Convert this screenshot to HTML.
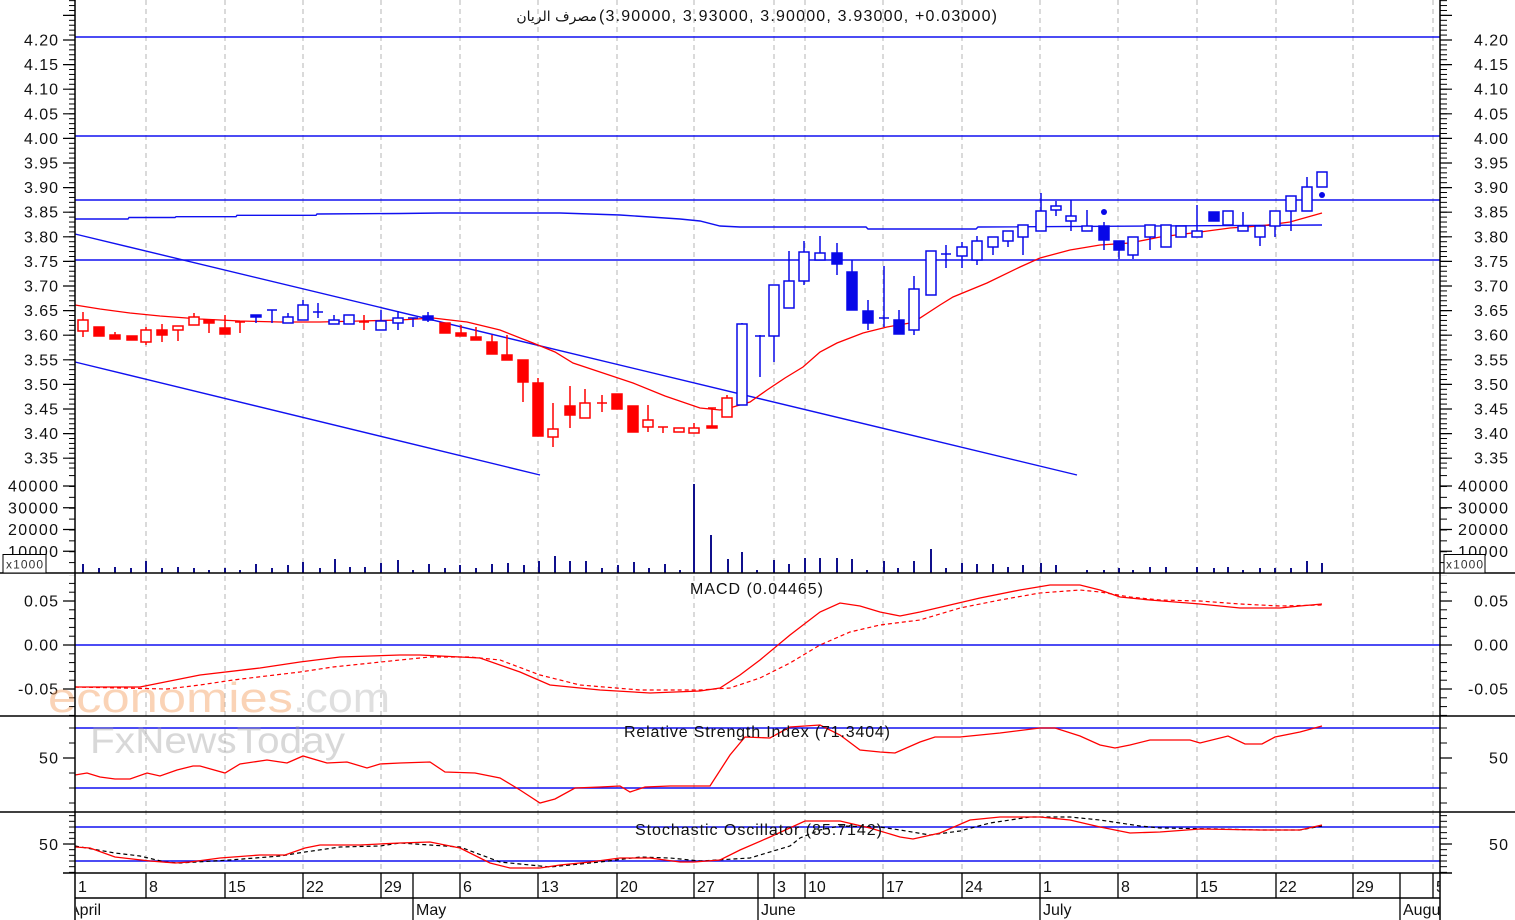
<!DOCTYPE html>
<html><head><meta charset="utf-8"><style>
html,body{margin:0;padding:0;background:#fff;}
svg{display:block;}
text{font-family:"Liberation Sans",Arial,"DejaVu Sans",sans-serif;font-size:16px;fill:#111;}
</style></head><body>
<svg width="1515" height="920" viewBox="0 0 1515 920" xmlns="http://www.w3.org/2000/svg">
<defs>
<pattern id="tp" patternUnits="userSpaceOnUse" x="0" y="39.5" width="1515" height="4.92"><rect width="1515" height="1" fill="#000"/></pattern>
<pattern id="tv" patternUnits="userSpaceOnUse" x="0" y="562.1" width="1515" height="10.875"><rect width="1515" height="1" fill="#000"/></pattern>
<pattern id="tm" patternUnits="userSpaceOnUse" x="0" y="644.5" width="1515" height="8.8"><rect width="1515" height="1" fill="#000"/></pattern>
<pattern id="tr" patternUnits="userSpaceOnUse" x="0" y="757.5" width="1515" height="15"><rect width="1515" height="1" fill="#000"/></pattern>
<pattern id="ts" patternUnits="userSpaceOnUse" x="0" y="843.5" width="1515" height="5.67"><rect width="1515" height="1" fill="#000"/></pattern>
<clipPath id="bc"><rect x="76" y="873" width="1364" height="47"/></clipPath>
</defs>
<rect width="1515" height="920" fill="#fff"/>

<!-- dashed gridlines -->
<g stroke="#b4b4b4" stroke-width="1" stroke-dasharray="5,4">
<path d="M146 0V873M225 0V873M303 0V873M381 0V873M460 0V873M538 0V873M617 0V873M694 0V873M774 0V873M805 0V873M883 0V873M962 0V873M1040 0V873M1118 0V873M1197 0V873M1276 0V873M1353 0V873M1433 0V873"/>
</g>

<!-- main horizontal lines -->
<g stroke="#1010f0" stroke-width="1.4" fill="none">
<path d="M75 37H1440M75 136H1440M75 200H1440M75 260H1440"/>
<polyline points="75,219 128,219 129,217.5 175,217.5 176,216.7 236,216.7 237,215.3 316,215.3 317,214 400,213.5 440,213 560,213 620,215 680,219 700,221 720,226 740,227 866,227 868,229 976,229 978,227 1322,225"/>
<path d="M75 234L1077 475M75 362L540 475"/>
</g>

<!-- red MA -->
<polyline fill="none" stroke="#f00" stroke-width="1.3" points="75,305 100,309 130,313 160,316 200,319 240,321 280,322 320,322 360,321 400,320 433,318 467,322 500,330 533,343 555,352 573,363 600,372 633,383 665,396 700,408 720,410 733,407 750,402 767,390 785,378 803,367 820,352 837,343 863,333 887,327 910,323 920,318 940,305 953,297 987,283 1020,267 1040,258 1070,250 1100,245 1130,243 1160,237 1200,232 1230,228 1260,226 1290,222 1322,213"/>

<!-- red candles -->
<g stroke="#f00" stroke-width="1.5">
<path fill="none" d="M83 312V337M99 327V336M115 332V339M132 336V340M146 327V345M162 324V342M178 326V341M194 313V325M209 320V333M225 315V334M240 322V333M364 315V330M445 323V333M461 325V336M476 327V340M492 335V354M507 335V360M523 360V402M538 378V436M553 403V447M570 386V428M585 389V418M602 395V412M617 394V409M633 406V432M648 405V432M663 427V433M679 428V432M694 423V433M712 408V428M727 395V417M708 408H716M359 322H369M597 403H607M235 322H245M658 427H668"/>
<g fill="#f00">
<rect x="94" y="327" width="10" height="9"/><rect x="110" y="335" width="10" height="4"/><rect x="127" y="336" width="10" height="4"/><rect x="157" y="330" width="10" height="5"/><rect x="204" y="320" width="10" height="3"/><rect x="220" y="328" width="10" height="6"/><rect x="440" y="323" width="10" height="10"/><rect x="456" y="333" width="10" height="3"/><rect x="471" y="337" width="10" height="3"/><rect x="487" y="342" width="10" height="12"/><rect x="502" y="355" width="10" height="5"/><rect x="518" y="360" width="10" height="22"/><rect x="533" y="383" width="10" height="53"/><rect x="565" y="406" width="10" height="9"/><rect x="612" y="394" width="10" height="15"/><rect x="628" y="406" width="10" height="26"/><rect x="707" y="426" width="10" height="2"/>
</g>
<g fill="#fff">
<rect x="78" y="320" width="10" height="11"/><rect x="141" y="330" width="10" height="12"/><rect x="173" y="326" width="10" height="4"/><rect x="189" y="317" width="10" height="8"/><rect x="548" y="429" width="10" height="8"/><rect x="580" y="403" width="10" height="15"/><rect x="643" y="420" width="10" height="7"/><rect x="674" y="428" width="10" height="4"/><rect x="689" y="428" width="10" height="5"/><rect x="722" y="398" width="10" height="19"/>
</g>
</g>

<!-- blue candles -->
<g stroke="#0808e8" stroke-width="1.5">
<path fill="none" d="M256 315V323M272 310V323M288 313V323M303 300V320M318 303V318M334 315V324M349 315V324M381 310V330M398 311V330M413 318V327M428 312V322M742 323V405M760 335V377M774 285V362M789 251V308M804 241V285M820 236V260M837 243V275M852 260V310M868 300V330M884 266V327M899 310V334M914 276V335M931 251V295M946 245V268M962 242V268M977 236V265M993 237V255M1008 231V247M1023 225V255M1041 193V231M1056 201V216M1071 200V231M1087 210V231M1104 222V250M1119 241V259M1133 237V259M1150 225V250M1166 225V247M1181 226V237M1197 205V237M1214 212V221M1228 211V225M1243 212V231M1260 226V246M1275 211V237M1291 196V231M1307 177V211M1322 172V187M267 310H277M408 318H418M755 336H765M879 318H889M941 254H951M313 312H323"/>
<g fill="#0808e8">
<rect x="251" y="315" width="10" height="2"/><rect x="423" y="316" width="10" height="4"/><rect x="832" y="253" width="10" height="11"/><rect x="847" y="272" width="10" height="38"/><rect x="863" y="311" width="10" height="12"/><rect x="894" y="320" width="10" height="14"/><rect x="1099" y="226" width="10" height="14"/><rect x="1114" y="241" width="10" height="9"/><rect x="1209" y="212" width="10" height="9"/>
<circle cx="1104" cy="212" r="3" stroke="none"/><circle cx="1322" cy="195" r="3" stroke="none"/>
</g>
<g fill="#fff">
<rect x="283" y="317" width="10" height="6"/><rect x="298" y="305" width="10" height="15"/><rect x="329" y="320" width="10" height="4"/><rect x="344" y="315" width="10" height="9"/><rect x="376" y="321" width="10" height="9"/><rect x="393" y="318" width="10" height="5"/><rect x="737" y="324" width="10" height="81"/><rect x="769" y="285" width="10" height="51"/><rect x="784" y="281" width="10" height="27"/><rect x="799" y="252" width="10" height="29"/><rect x="815" y="253" width="10" height="7"/><rect x="909" y="289" width="10" height="41"/><rect x="926" y="251" width="10" height="44"/><rect x="957" y="247" width="10" height="9"/><rect x="972" y="241" width="10" height="19"/><rect x="988" y="237" width="10" height="10"/><rect x="1003" y="231" width="10" height="10"/><rect x="1018" y="225" width="10" height="12"/><rect x="1036" y="211" width="10" height="20"/><rect x="1051" y="206" width="10" height="4"/><rect x="1066" y="216" width="10" height="5"/><rect x="1082" y="226" width="10" height="5"/><rect x="1128" y="237" width="10" height="18"/><rect x="1145" y="225" width="10" height="12"/><rect x="1161" y="225" width="10" height="22"/><rect x="1176" y="226" width="10" height="11"/><rect x="1192" y="231" width="10" height="6"/><rect x="1223" y="211" width="10" height="14"/><rect x="1238" y="226" width="10" height="5"/><rect x="1255" y="226" width="10" height="11"/><rect x="1270" y="211" width="10" height="15"/><rect x="1286" y="196" width="10" height="15"/><rect x="1302" y="187" width="10" height="24"/><rect x="1317" y="172" width="10" height="15"/>
</g>
</g>

<!-- volume bars -->
<path stroke="#10108c" stroke-width="2" fill="none" d="M83 573v-9M99 573v-5M115 573v-6M131 573v-5M146 573v-12M162 573v-5M178 573v-6M194 573v-5M209 573v-3M225 573v-5M240 573v-3M256 573v-9M272 573v-5M288 573v-8M303 573v-11M320 573v-5M335 573v-14M350 573v-6M365 573v-6M381 573v-10M398 573v-13M413 573v-3M429 573v-9M445 573v-5M460 573v-8M476 573v-5M492 573v-9M508 573v-10M524 573v-8M539 573v-12M555 573v-17M570 573v-12M586 573v-12M602 573v-5M618 573v-8M634 573v-11M649 573v-5M665 573v-9M680 573v-3M694 573v-89M711 573v-38M728 573v-14M742 573v-21M757 573v-3M774 573v-13M789 573v-9M805 573v-15M820 573v-15M837 573v-15M852 573v-14M867 573v-3M884 573v-12M898 573v-5M914 573v-12M931 573v-24M946 573v-5M962 573v-10M977 573v-9M993 573v-9M1008 573v-6M1023 573v-8M1041 573v-10M1056 573v-8M1087 573v-3M1104 573v-3M1119 573v-5M1133 573v-3M1150 573v-6M1166 573v-6M1197 573v-6M1214 573v-5M1228 573v-6M1243 573v-3M1260 573v-5M1275 573v-5M1291 573v-5M1307 573v-12M1322 573v-10"/>

<!-- MACD -->
<path stroke="#1010f0" stroke-width="1.4" d="M75 645H1440"/>
<polyline fill="none" stroke="#f00" stroke-width="1.3" points="75,687 140,687 200,675 260,668 300,662 340,657 400,655 420,655 480,658 520,672 550,685 600,690 650,693 700,691 720,688 740,675 760,660 790,635 820,612 840,603 860,606 880,612 900,616 920,612 950,605 980,598 1020,590 1050,585 1080,585 1100,590 1120,597 1150,600 1200,604 1240,608 1280,608 1300,606 1322,604"/>
<polyline fill="none" stroke="#f00" stroke-width="1.2" stroke-dasharray="4,3" points="75,687 120,688 167,689 200,685 233,680 300,672 333,667 400,660 430,657 470,657 500,660 540,675 580,685 640,690 700,690 730,688 760,678 790,663 820,645 850,632 880,625 920,620 960,608 1000,600 1040,593 1080,590 1100,592 1130,597 1160,600 1200,601 1240,604 1280,606 1322,605"/>

<!-- RSI -->
<path stroke="#1010f0" stroke-width="1.4" d="M75 728H1440M75 788H1440"/>
<polyline fill="none" stroke="#f00" stroke-width="1.3" points="75,775 87,773 100,777 115,779 130,779 147,773 160,776 177,770 193,766 200,766 225,773 240,764 267,760 287,763 303,756 327,763 347,762 367,768 380,764 400,763 430,762 445,772 475,773 500,778 520,790 540,803 555,799 575,788 600,787 620,786 630,792 645,787 670,786 710,786 730,755 745,737 770,738 790,727 820,725 840,735 860,750 880,752 895,753 920,742 935,737 960,737 1000,733 1040,728 1055,728 1080,736 1100,745 1115,748 1130,745 1150,740 1190,740 1200,743 1228,736 1245,744 1262,744 1275,737 1300,732 1322,726"/>

<!-- Stochastic -->
<path stroke="#1010f0" stroke-width="1.4" d="M75 827H1440M75 861H1440"/>
<polyline fill="none" stroke="#000" stroke-width="1.2" stroke-dasharray="4,3" points="75,846 115,853 140,856 165,862 180,863 230,860 280,856 305,852 340,847 380,846 400,843 430,845 460,847 500,862 550,867 600,862 640,857 670,858 700,861 750,858 790,846 800,838 820,830 840,826 880,827 900,830 930,835 960,831 990,823 1030,817 1070,817 1100,820 1140,826 1160,828 1220,829 1260,830 1300,830 1322,826"/>
<polyline fill="none" stroke="#f00" stroke-width="1.3" points="75,847 90,848 115,857 150,861 175,863 190,862 220,858 260,855 285,855 305,848 320,845 360,845 400,843 430,842 460,848 490,863 510,868 540,868 560,865 590,862 620,858 650,858 680,862 694,862 720,860 740,850 770,837 805,821 840,821 870,828 900,837 913,839 940,833 970,820 1000,817 1040,817 1070,820 1100,827 1130,833 1160,832 1200,829 1260,830 1300,830 1322,825"/>

<!-- axes -->
<g stroke="#000" fill="none">
<path stroke-width="1.5" d="M75 0V920M1440 0V920"/>
<path stroke-width="1.5" d="M0 573H1515M0 716H1515M0 812H1515"/>
<path stroke-width="1.5" d="M63 873H1452M75 898H1440"/>
<path stroke-width="1.3" d="M146 873V898M225 873V898M303 873V898M381 873V898M460 873V898M538 873V898M617 873V898M694 873V898M774 873V898M805 873V898M883 873V898M962 873V898M1118 873V898M1197 873V898M1276 873V898M1353 873V898M1433 873V898M413 873V920M758 873V920M1040 873V920M1400 873V920"/>
<path stroke-width="1.2" d="M63 15.4H75M63 40H75M63 64.6H75M63 89.2H75M63 113.8H75M63 138.4H75M63 163H75M63 187.6H75M63 212.2H75M63 236.8H75M63 261.4H75M63 286H75M63 310.6H75M63 335.2H75M63 359.8H75M63 384.4H75M63 409H75M63 433.6H75M63 458.2H75M63 486H75M63 507.75H75M63 529.5H75M63 551.25H75M63 601H75M63 645H75M63 689H75M63 758H75M63 844H75"/>
<path stroke-width="1.2" d="M1440 15.4H1452M1440 40H1452M1440 64.6H1452M1440 89.2H1452M1440 113.8H1452M1440 138.4H1452M1440 163H1452M1440 187.6H1452M1440 212.2H1452M1440 236.8H1452M1440 261.4H1452M1440 286H1452M1440 310.6H1452M1440 335.2H1452M1440 359.8H1452M1440 384.4H1452M1440 409H1452M1440 433.6H1452M1440 458.2H1452M1440 486H1452M1440 507.75H1452M1440 529.5H1452M1440 551.25H1452M1440 601H1452M1440 645H1452M1440 689H1452M1440 758H1452M1440 844H1452"/>
</g>
<rect x="69" y="0" width="6" height="470" fill="url(#tp)"/>
<rect x="1440" y="0" width="7" height="470" fill="url(#tp)"/>
<rect x="69" y="474" width="6" height="99" fill="url(#tv)"/>
<rect x="1440" y="474" width="7" height="99" fill="url(#tv)"/>
<rect x="69" y="575" width="6" height="141" fill="url(#tm)"/>
<rect x="1440" y="575" width="7" height="141" fill="url(#tm)"/>
<rect x="69" y="718" width="6" height="94" fill="url(#tr)"/>
<rect x="1440" y="718" width="7" height="94" fill="url(#tr)"/>
<rect x="69" y="814" width="6" height="59" fill="url(#ts)"/>
<rect x="1440" y="814" width="7" height="59" fill="url(#ts)"/>

<!-- left labels -->
<g text-anchor="end" lengthAdjust="spacing">
<text x="58" y="45.5" textLength="34">4.20</text>
<text x="58" y="70.1" textLength="34">4.15</text>
<text x="58" y="94.7" textLength="34">4.10</text>
<text x="58" y="119.3" textLength="34">4.05</text>
<text x="58" y="143.9" textLength="34">4.00</text>
<text x="58" y="168.5" textLength="34">3.95</text>
<text x="58" y="193.1" textLength="34">3.90</text>
<text x="58" y="217.7" textLength="34">3.85</text>
<text x="58" y="242.3" textLength="34">3.80</text>
<text x="58" y="266.9" textLength="34">3.75</text>
<text x="58" y="291.5" textLength="34">3.70</text>
<text x="58" y="316.1" textLength="34">3.65</text>
<text x="58" y="340.7" textLength="34">3.60</text>
<text x="58" y="365.3" textLength="34">3.55</text>
<text x="58" y="389.9" textLength="34">3.50</text>
<text x="58" y="414.5" textLength="34">3.45</text>
<text x="58" y="439.1" textLength="34">3.40</text>
<text x="58" y="463.7" textLength="34">3.35</text>
<text x="58" y="491.5" textLength="50">40000</text>
<text x="58" y="513.3" textLength="50">30000</text>
<text x="58" y="535" textLength="50">20000</text>
<text x="58" y="556.8" textLength="50">10000</text>
<text x="58" y="606.5" textLength="34">0.05</text>
<text x="58" y="650.5" textLength="34">0.00</text>
<text x="58" y="694.5" textLength="40">-0.05</text>
<text x="58" y="763.5" textLength="19">50</text>
<text x="58" y="850" textLength="19">50</text>
</g>
<!-- right labels -->
<g text-anchor="end" lengthAdjust="spacing">
<text x="1508" y="45.5" textLength="34">4.20</text>
<text x="1508" y="70.1" textLength="34">4.15</text>
<text x="1508" y="94.7" textLength="34">4.10</text>
<text x="1508" y="119.3" textLength="34">4.05</text>
<text x="1508" y="143.9" textLength="34">4.00</text>
<text x="1508" y="168.5" textLength="34">3.95</text>
<text x="1508" y="193.1" textLength="34">3.90</text>
<text x="1508" y="217.7" textLength="34">3.85</text>
<text x="1508" y="242.3" textLength="34">3.80</text>
<text x="1508" y="266.9" textLength="34">3.75</text>
<text x="1508" y="291.5" textLength="34">3.70</text>
<text x="1508" y="316.1" textLength="34">3.65</text>
<text x="1508" y="340.7" textLength="34">3.60</text>
<text x="1508" y="365.3" textLength="34">3.55</text>
<text x="1508" y="389.9" textLength="34">3.50</text>
<text x="1508" y="414.5" textLength="34">3.45</text>
<text x="1508" y="439.1" textLength="34">3.40</text>
<text x="1508" y="463.7" textLength="34">3.35</text>
<text x="1508" y="491.5" textLength="50">40000</text>
<text x="1508" y="513.3" textLength="50">30000</text>
<text x="1508" y="535" textLength="50">20000</text>
<text x="1508" y="556.8" textLength="50">10000</text>
<text x="1508" y="606.5" textLength="34">0.05</text>
<text x="1508" y="650.5" textLength="34">0.00</text>
<text x="1508" y="694.5" textLength="40">-0.05</text>
<text x="1508" y="763.5" textLength="19">50</text>
<text x="1508" y="850" textLength="19">50</text>
</g>

<!-- x1000 boxes -->
<rect x="3" y="554.5" width="43" height="18.5" fill="#fff" stroke="#000" stroke-width="1"/>
<text x="6" y="568.5" style="font-size:12px;fill:#333" textLength="37" lengthAdjust="spacing">x1000</text>
<rect x="1444" y="554.5" width="41" height="18.5" fill="#fff" stroke="#000" stroke-width="1"/>
<text x="1446" y="568.5" style="font-size:12px;fill:#333" textLength="37" lengthAdjust="spacing">x1000</text>

<!-- titles -->
<text x="597" y="21" text-anchor="end" style="font-family:'DejaVu Sans',sans-serif;font-size:14px;">مصرف الريان</text>
<text x="599" y="21" textLength="398" lengthAdjust="spacing">(3.90000, 3.93000, 3.90000, 3.93000, +0.03000)</text>
<text x="690" y="594" textLength="133" lengthAdjust="spacing">MACD (0.04465)</text>
<text x="624" y="737" textLength="266" lengthAdjust="spacing">Relative Strength Index (71.3404)</text>
<text x="635" y="835" textLength="247" lengthAdjust="spacing">Stochastic Oscillator (85.7142)</text>

<!-- date labels -->
<g clip-path="url(#bc)">
<text x="78" y="892">1</text>
<text x="149" y="892">8</text>
<text x="228" y="892">15</text>
<text x="306" y="892">22</text>
<text x="384" y="892">29</text>
<text x="463" y="892">6</text>
<text x="541" y="892">13</text>
<text x="620" y="892">20</text>
<text x="697" y="892">27</text>
<text x="777" y="892">3</text>
<text x="808" y="892">10</text>
<text x="886" y="892">17</text>
<text x="965" y="892">24</text>
<text x="1043" y="892">1</text>
<text x="1121" y="892">8</text>
<text x="1200" y="892">15</text>
<text x="1279" y="892">22</text>
<text x="1356" y="892">29</text>
<text x="1436" y="892">5</text>
<text x="69" y="915">April</text>
<text x="416" y="915">May</text>
<text x="761" y="915">June</text>
<text x="1043" y="915">July</text>
<text x="1403" y="915">August</text>
</g>

<!-- watermarks -->
<text x="48" y="712" textLength="245" lengthAdjust="spacingAndGlyphs" style="font-size:42px;fill:#f5a060;opacity:0.45">economies</text>
<text x="293" y="712" textLength="97" lengthAdjust="spacingAndGlyphs" style="font-size:42px;fill:#b0b0b0;opacity:0.4">.com</text>
<text x="90" y="753" textLength="255" lengthAdjust="spacingAndGlyphs" style="font-size:37px;fill:#a0a0a0;opacity:0.4">FxNewsToday</text>
</svg>
</body></html>
